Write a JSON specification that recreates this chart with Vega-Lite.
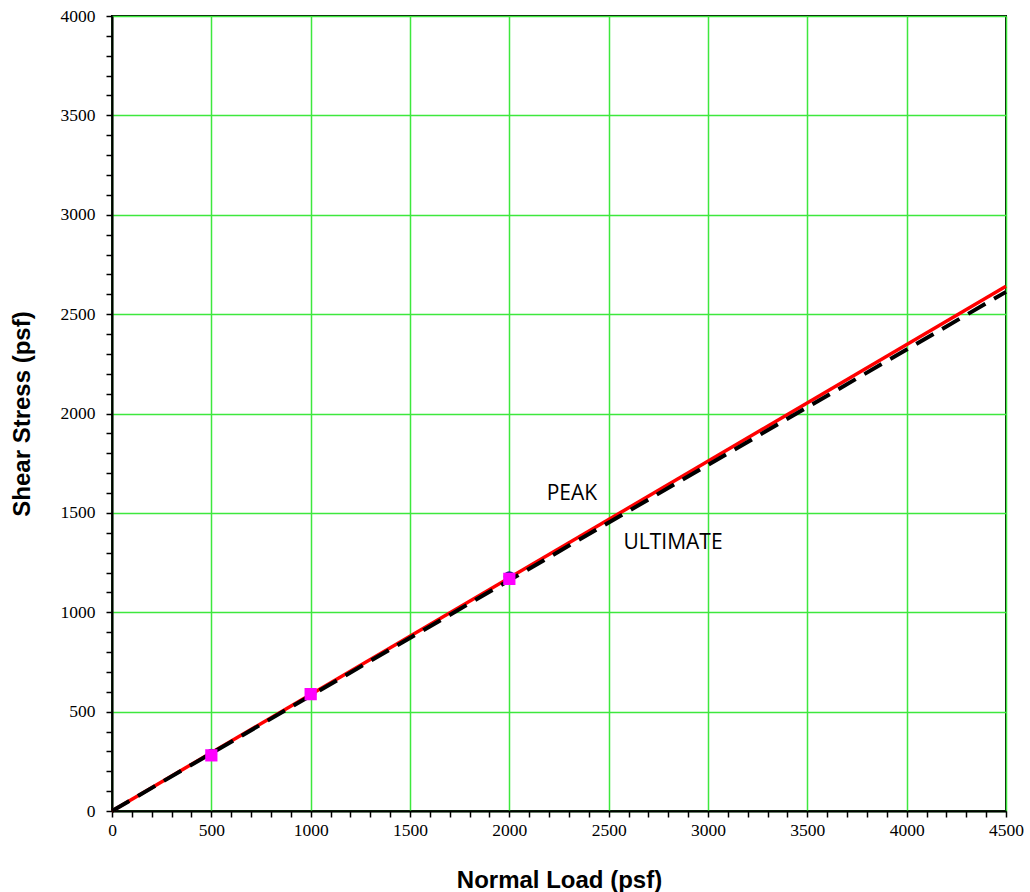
{
  "$schema": "https://vega.github.io/schema/vega-lite/v6.json",
  "width": 894,
  "height": 795,
  "autosize": "none",
  "padding": {"left": 112, "top": 16, "right": 24, "bottom": 81},
  "background": "white",
  "config": {
    "view": {"stroke": "black", "strokeWidth": 2},
    "axis": {
      "domainColor": "black",
      "domainWidth": 2,
      "tickColor": "black",
      "tickWidth": 1.5,
      "tickSize": 6,
      "labelFont": "Liberation Serif",
      "labelFontSize": 17.5,
      "labelColor": "black",
      "titleFont": "Liberation Sans",
      "titleFontSize": 24,
      "titleFontWeight": "bold",
      "titleColor": "black",
      "gridColor": "#3de83d",
      "gridWidth": 1.5,
      "labelFlush": false,
      "labelOverlap": false
    }
  },
  "datasets": {
    "lines": [
      {"series": "PEAK", "x": 0, "y": 0},
      {"series": "PEAK", "x": 4500, "y": 2640},
      {"series": "ULTIMATE", "x": 0, "y": 0},
      {"series": "ULTIMATE", "x": 4500, "y": 2612}
    ],
    "points": [
      {"series": "PEAK", "x": 500, "y": 284},
      {"series": "PEAK", "x": 1000, "y": 590},
      {"series": "PEAK", "x": 2000, "y": 1178},
      {"series": "ULTIMATE", "x": 500, "y": 280},
      {"series": "ULTIMATE", "x": 1000, "y": 588},
      {"series": "ULTIMATE", "x": 2000, "y": 1168}
    ],
    "labels": [
      {"text": "PEAK", "x": 2315, "y": 1595},
      {"text": "ULTIMATE", "x": 2824, "y": 1348}
    ]
  },
  "encoding": {
    "x": {
      "field": "x", "type": "quantitative",
      "scale": {"domain": [0, 4500], "nice": false, "zero": true},
      "axis": {
        "title": "Normal Load (psf)",
        "values": [0,100,200,300,400,500,600,700,800,900,1000,1100,1200,1300,1400,1500,1600,1700,1800,1900,2000,2100,2200,2300,2400,2500,2600,2700,2800,2900,3000,3100,3200,3300,3400,3500,3600,3700,3800,3900,4000,4100,4200,4300,4400,4500],
        "format": "d",
        "labelExpr": "datum.value % 500 === 0 ? datum.label : ''",
        "gridOpacity": {"condition": {"test": "datum.value % 500 === 0", "value": 1}, "value": 0},
        "labelPadding": 4,
        "titlePadding": 30
      }
    },
    "y": {
      "field": "y", "type": "quantitative",
      "scale": {"domain": [0, 4000], "nice": false},
      "axis": {
        "title": "Shear Stress (psf)",
        "values": [0,100,200,300,400,500,600,700,800,900,1000,1100,1200,1300,1400,1500,1600,1700,1800,1900,2000,2100,2200,2300,2400,2500,2600,2700,2800,2900,3000,3100,3200,3300,3400,3500,3600,3700,3800,3900,4000],
        "format": "d",
        "labelExpr": "datum.value % 500 === 0 ? datum.label : ''",
        "gridOpacity": {"condition": {"test": "datum.value % 500 === 0", "value": 1}, "value": 0},
        "labelPadding": 11,
        "titlePadding": 26
      }
    }
  },
  "layer": [
    {
      "data": {"name": "lines"},
      "transform": [{"filter": "datum.series === 'PEAK'"}],
      "mark": {"type": "line", "color": "#ff0000", "strokeWidth": 3.5}
    },
    {
      "data": {"name": "lines"},
      "transform": [{"filter": "datum.series === 'ULTIMATE'"}],
      "mark": {"type": "line", "color": "black", "strokeWidth": 4, "strokeDash": [20, 10]}
    },
    {
      "data": {"name": "points"},
      "transform": [{"filter": "datum.series === 'PEAK'"}],
      "mark": {"type": "point", "shape": "circle", "filled": true, "color": "#1a1a80", "size": 130, "opacity": 1}
    },
    {
      "data": {"name": "points"},
      "transform": [{"filter": "datum.series === 'ULTIMATE'"}],
      "mark": {"type": "point", "shape": "square", "filled": true, "color": "#ff00ff", "size": 150, "opacity": 1}
    },
    {
      "data": {"name": "labels"},
      "mark": {"type": "text", "font": "Open Sans", "fontSize": 21, "color": "black", "align": "center", "baseline": "middle"},
      "encoding": {
        "text": {"field": "text"}
      }
    }
  ]
}
